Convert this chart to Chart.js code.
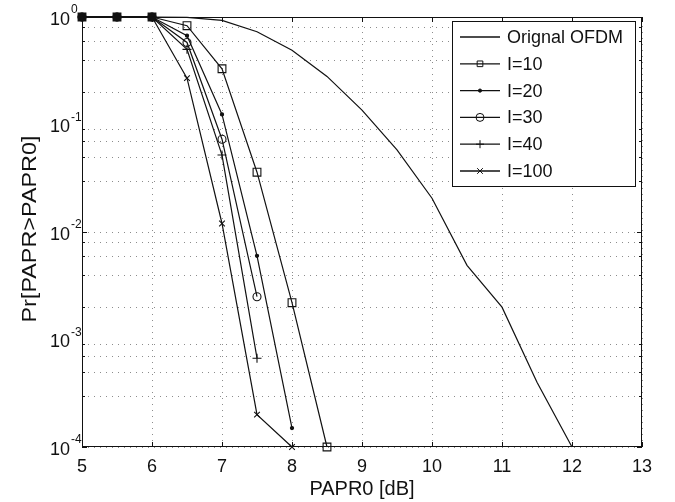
<!DOCTYPE html>
<html>
<head>
<meta charset="utf-8">
<script src="https://cdn.jsdelivr.net/npm/chart.js@4/dist/chart.umd.min.js"></script>
<style>
  html, body { margin: 0; background: #fff; }
  #wrap { width: 675px; height: 502px; }
</style>
</head>
<body>
<div id="wrap"><canvas id="papr"></canvas></div>
<script>
// PAPR CCDF curves
const xOrig  = [5, 5.5, 6, 6.5, 7, 7.5, 8, 8.5, 9, 9.5, 10, 10.5, 11, 11.5, 12];
const yOrig  = [1, 1, 1, 0.99, 0.93, 0.73, 0.49, 0.28, 0.136, 0.058, 0.0206, 0.0049, 0.002, 0.0004, 0.0001];

const xI10  = [5, 5.5, 6, 6.5, 7, 7.5, 8, 8.5];
const yI10  = [1, 1, 1, 0.83, 0.33, 0.036, 0.0022, 0.0001];
const xI20  = [5, 5.5, 6, 6.5, 7, 7.5, 8];
const yI20  = [1, 1, 1, 0.67, 0.124, 0.006, 0.00015];
const xI30  = [5, 5.5, 6, 6.5, 7, 7.5];
const yI30  = [1, 1, 1, 0.58, 0.073, 0.0025];
const xI40  = [5, 5.5, 6, 6.5, 7, 7.5];
const yI40  = [1, 1, 1, 0.50, 0.052, 0.00067];
const xI100 = [5, 5.5, 6, 6.5, 7, 7.5, 8];
const yI100 = [1, 1, 1, 0.27, 0.012, 0.0002, 0.0001];

const seriesNames = ["Orignal OFDM", "I=10", "I=20", "I=30", "I=40", "I=100"];

const yDecades = [1e-4, 1e-3, 1e-2, 1e-1, 1];
const yExpLabels = ["-4", "-3", "-2", "-1", "0"];
const xTitle = "PAPR0 [dB]";
const yTitle = "Pr[PAPR>PAPR0]";

const FONT = "'Liberation Sans', Arial, sans-serif";
const INK = "#111";
const CLEAR = "rgba(0,0,0,0)";

function pts(xs, ys) {
  return xs.map((x, i) => ({ x: x, y: ys[i] }));
}

function mkSet(label, data, style, radius) {
  return {
    label, data,
    borderColor: INK, borderWidth: 1.2,
    pointStyle: style || false,
    pointRadius: style ? radius : 0,
    pointBorderColor: INK, pointBorderWidth: 1.1,
    pointBackgroundColor: style === "circle" && radius < 2 ? INK : CLEAR,
    tension: 0, clip: false
  };
}

// dotted MATLAB grid, drawn under the curves
const dottedGrid = {
  id: "dottedGrid",
  beforeDatasetsDraw(chart) {
    const { ctx, chartArea: a, scales: { x, y } } = chart;
    ctx.save();
    ctx.strokeStyle = "#8c8c8c";
    ctx.lineWidth = 1;
    ctx.setLineDash([1, 5]);
    ctx.beginPath();
    x.ticks.forEach(t => {
      const px = Math.round(x.getPixelForValue(t.value)) + 0.5;
      ctx.moveTo(px, a.bottom); ctx.lineTo(px, a.top);
    });
    y.ticks.forEach(t => {
      const py = Math.round(y.getPixelForValue(t.value)) + 0.5;
      ctx.moveTo(a.left, py); ctx.lineTo(a.right, py);
    });
    ctx.stroke();
    ctx.restore();
  }
};

// box, inner ticks, y labels, titles and legend
const matlabDecor = {
  id: "matlabDecor",
  afterDraw(chart) {
    const { ctx, chartArea: a, scales: { x, y } } = chart;
    ctx.save();
    ctx.strokeStyle = INK;
    ctx.lineWidth = 1;
    ctx.strokeRect(a.left + 0.5, a.top + 0.5, a.right - a.left - 1, a.bottom - a.top - 1);

    ctx.beginPath();
    x.ticks.forEach(t => {
      const px = Math.round(x.getPixelForValue(t.value)) + 0.5;
      ctx.moveTo(px, a.bottom); ctx.lineTo(px, a.bottom - 5);
      ctx.moveTo(px, a.top); ctx.lineTo(px, a.top + 5);
    });
    y.ticks.forEach(t => {
      const py = Math.round(y.getPixelForValue(t.value)) + 0.5;
      const len = yDecades.includes(t.value) ? 5 : 3;
      ctx.moveTo(a.left, py); ctx.lineTo(a.left + len, py);
      ctx.moveTo(a.right, py); ctx.lineTo(a.right - len, py);
    });
    ctx.stroke();

    // y tick labels 10^n
    ctx.fillStyle = INK;
    ctx.textBaseline = "middle";
    yDecades.forEach((d, i) => {
      const py = y.getPixelForValue(d);
      ctx.font = "18px " + FONT;
      ctx.textAlign = "right";
      ctx.fillText("10", 70, py + 3);
      ctx.font = "12px " + FONT;
      ctx.textAlign = "left";
      ctx.fillText(yExpLabels[i], 71, py - 7);
    });

    // axis titles
    ctx.font = "20px " + FONT;
    ctx.textAlign = "center";
    ctx.fillText(xTitle, (a.left + a.right) / 2, 489);
    ctx.save();
    ctx.translate(30, 229);
    ctx.rotate(-Math.PI / 2);
    ctx.scale(1.17, 1);
    ctx.fillText(yTitle, 0, 0);
    ctx.restore();

    // legend
    const bx = 452, by = 21, bw = 183, bh = 165;
    ctx.fillStyle = "#fff";
    ctx.fillRect(bx, by, bw, bh);
    ctx.strokeRect(bx + 0.5, by + 0.5, bw, bh);
    ctx.font = "18px " + FONT;
    ctx.textAlign = "left";
    chart.data.datasets.forEach((ds, i) => {
      const ly = 37 + i * 26.8;
      ctx.strokeStyle = INK;
      ctx.lineWidth = 1.3;
      ctx.beginPath();
      ctx.moveTo(460, ly); ctx.lineTo(500, ly);
      ctx.stroke();
      if (ds.pointStyle && Chart.helpers && Chart.helpers.drawPoint) {
        ctx.fillStyle = ds.pointRadius < 2 ? INK : CLEAR;
        ctx.lineWidth = 1;
        Chart.helpers.drawPoint(ctx, {
          pointStyle: ds.pointStyle,
          radius: Math.min(ds.pointRadius, 4),
          rotation: 0, borderWidth: 1
        }, 480, ly);
      }
      ctx.fillStyle = INK;
      ctx.fillText(ds.label, 507, ly + 1);
    });
    ctx.restore();
  }
};

const sets = [
  mkSet(seriesNames[0], pts(xOrig, yOrig), null, 0),
  mkSet(seriesNames[1], pts(xI10, yI10), "rect", 5.5),
  mkSet(seriesNames[2], pts(xI20, yI20), "circle", 1.6),
  mkSet(seriesNames[3], pts(xI30, yI30), "circle", 4),
  mkSet(seriesNames[4], pts(xI40, yI40), "cross", 4.5),
  mkSet(seriesNames[5], pts(xI100, yI100), "crossRot", 4)
];
// where all markers pile up at Pr = 1 they print as a solid block
sets[1].pointBackgroundColor = c => (c.raw && c.raw.y === 1 ? INK : CLEAR);

new Chart(document.getElementById("papr"), {
  type: "line",
  data: { datasets: sets },
  options: {
    responsive: true,
    maintainAspectRatio: false,
    animation: false,
    layout: { padding: { top: 17, right: 33, left: 0, bottom: 0 } },
    plugins: { legend: { display: false }, tooltip: { enabled: false } },
    scales: {
      x: {
        type: "linear", min: 5, max: 13,
        afterFit(s) { s.height = 55; },
        ticks: { stepSize: 1, color: INK, padding: 9, font: { family: FONT, size: 18 } },
        grid: { display: false, drawTicks: false },
        border: { display: false }
      },
      y: {
        type: "logarithmic", min: 1e-4, max: 1,
        afterFit(s) { s.width = 82; },
        afterBuildTicks(s) {
          const t = [];
          yDecades.forEach(d => {
            for (let m = 1; m <= 9; m++) {
              const v = +(d * m).toPrecision(3);
              if (v <= 1) t.push({ value: v });
            }
          });
          s.ticks = t;
        },
        ticks: { callback: () => "", padding: 0 },
        grid: { display: false, drawTicks: false },
        border: { display: false }
      }
    }
  },
  plugins: [dottedGrid, matlabDecor]
});
</script>
</body>
</html>
